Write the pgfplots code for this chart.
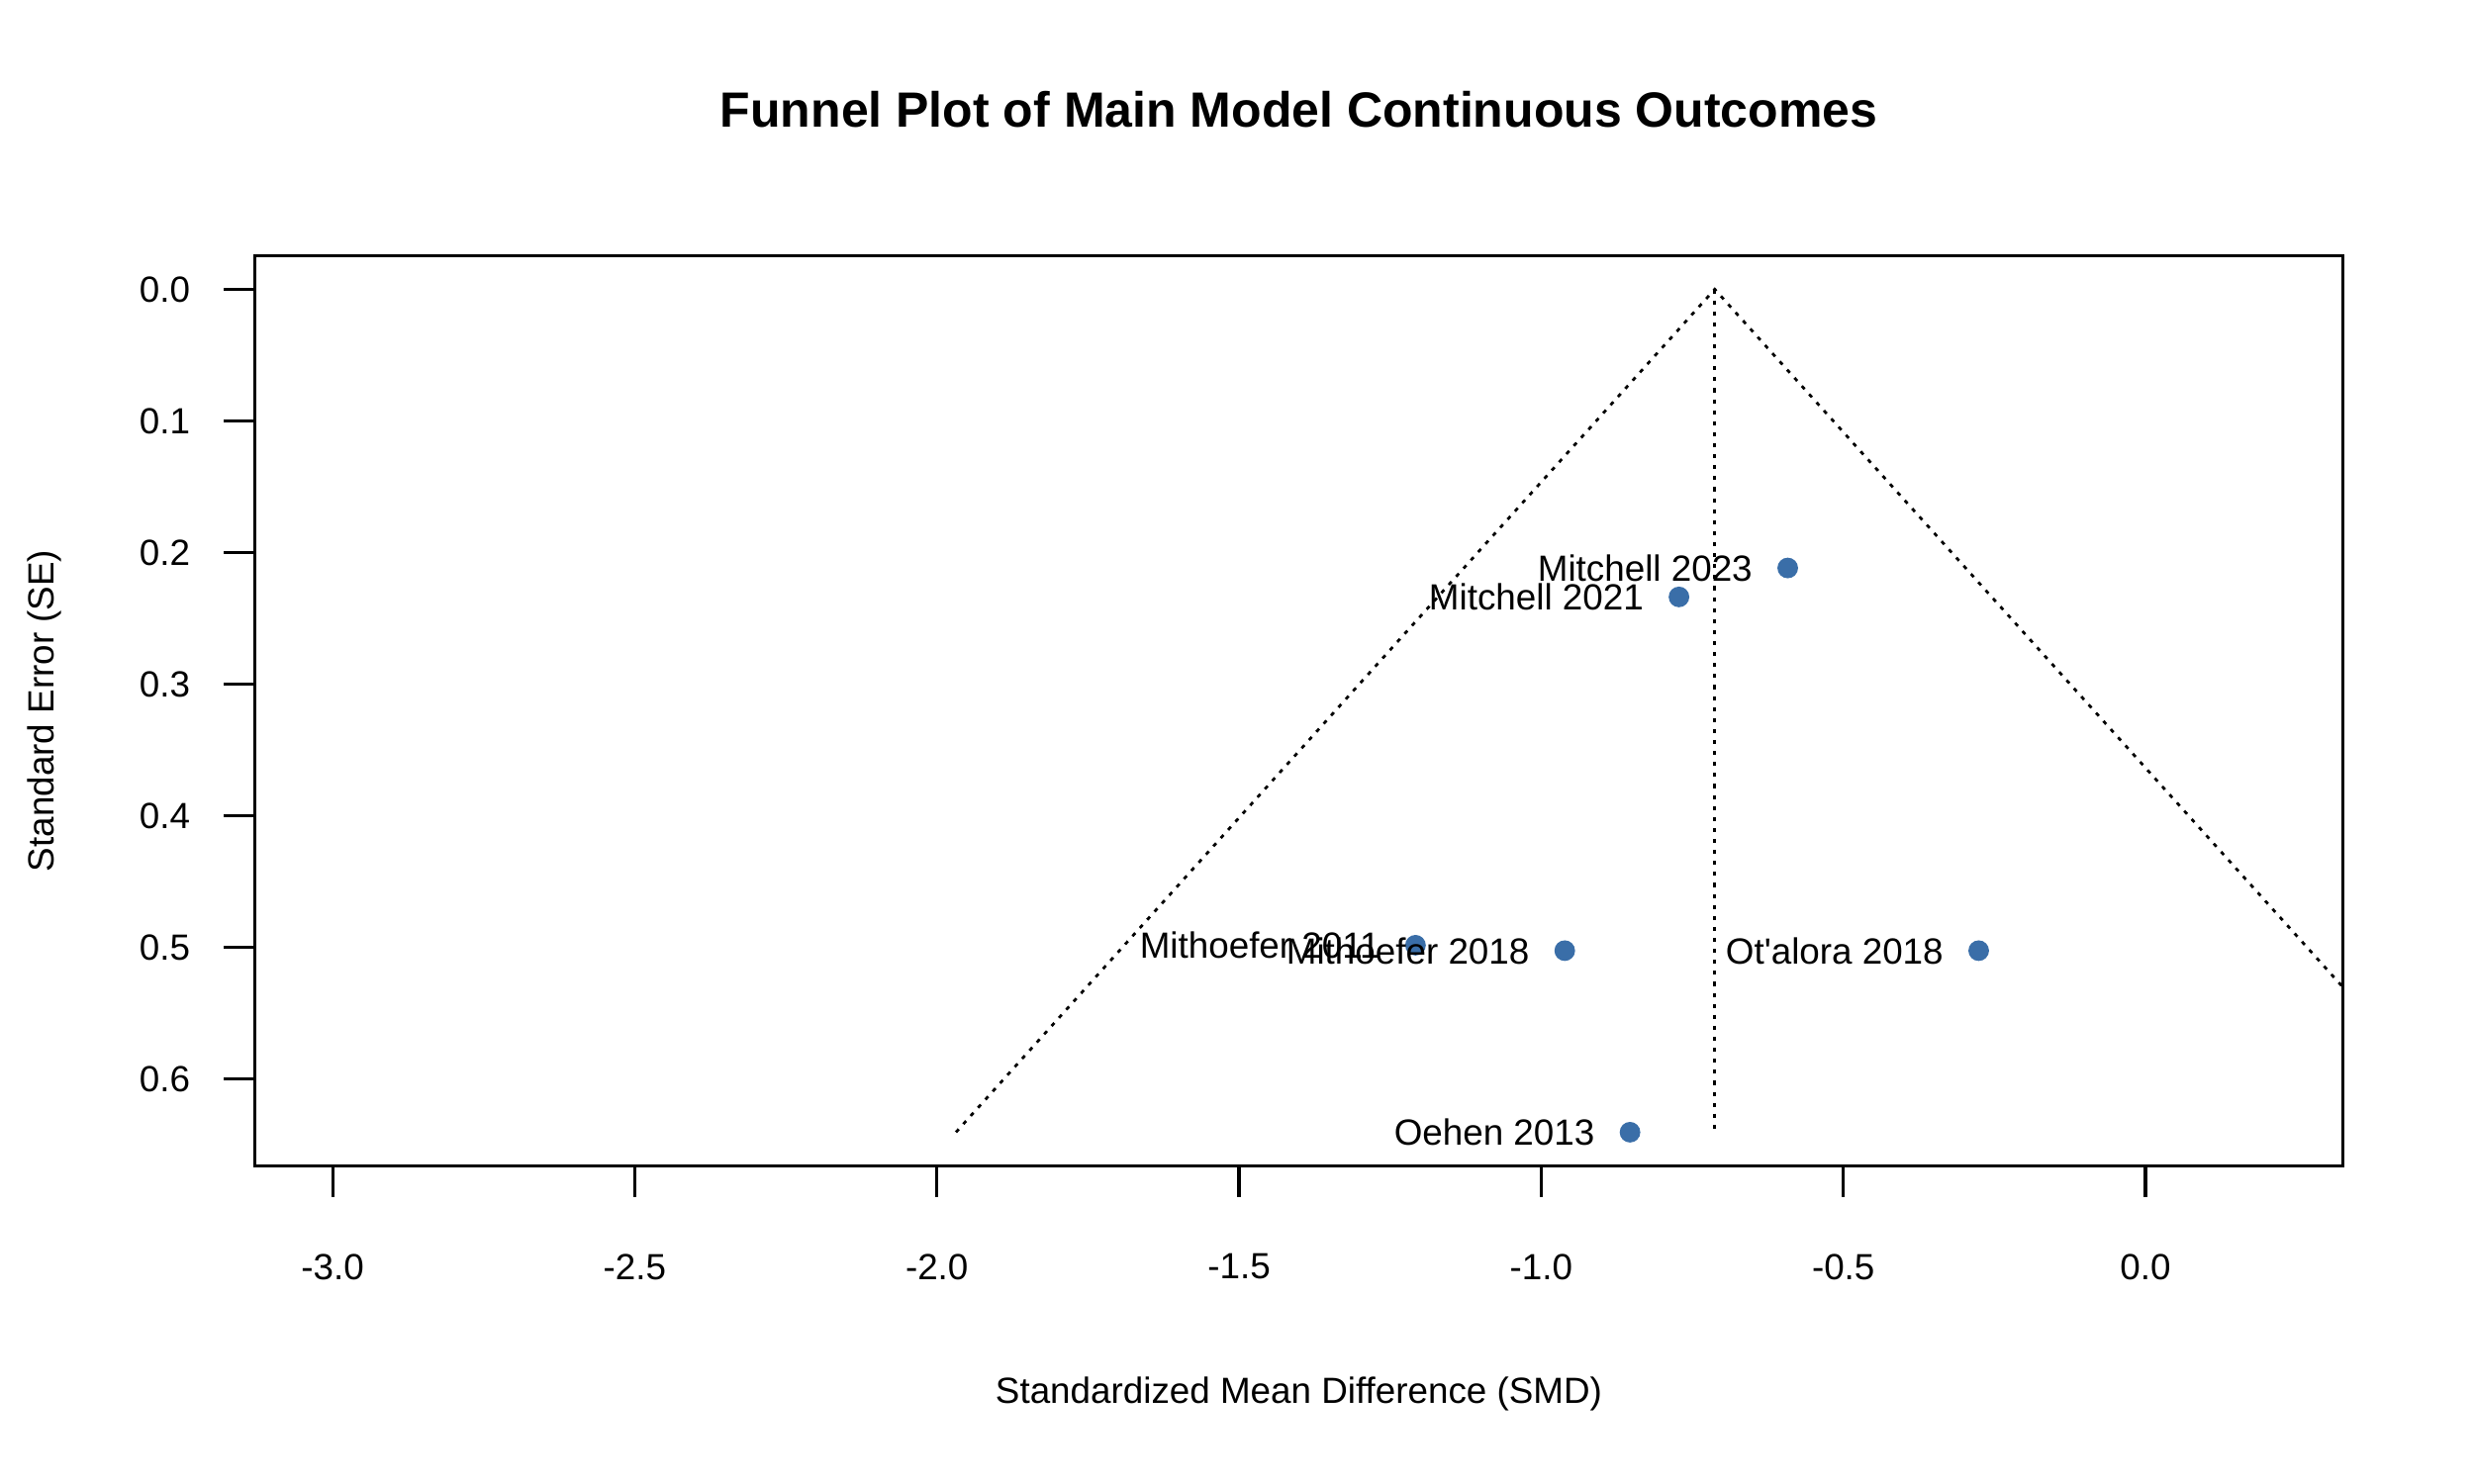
\documentclass[border=0pt]{standalone}
\usepackage{fontspec}
\setmainfont{Liberation Sans}[Ligatures=TeXOff]
\usepackage{pgfplots}
\pgfplotsset{compat=1.18}
\definecolor{dotblue}{RGB}{58,110,168}

% SMD, SE and study label
\pgfplotstableread{
x y label
-0.592 0.2118 {Mitchell 2023}
-0.772 0.2338 {Mitchell 2021}
-1.208 0.4985 {Mithoefer 2011}
-0.961 0.5026 {Mithoefer 2018}
-0.276 0.5026 {Ot'alora 2018}
-0.853 0.6406 {Oehen 2013}
}\studies

\begin{document}
\begin{tikzpicture}
\begin{axis}[
    scale only axis,
    width=607.8bp, height=265bp,
    xmin=-3.129, xmax=0.327,
    ymin=-0.0256, ymax=0.6662,
    y dir=reverse,
    xtick={-3,-2.5,-2,-1.5,-1,-0.5,0},
    ytick={0,0.1,0.2,0.3,0.4,0.5,0.6},
    xtick pos=bottom, ytick pos=left,
    tick align=outside,
    major tick length=9bp,
    tick style={black, line width=0.9bp},
    axis line style={line width=0.9bp},
    /pgf/number format/assume math mode=true,
    /pgf/number format/fixed,
    /pgf/number format/fixed zerofill,
    /pgf/number format/precision=1,
    ticklabel style={font=\fontsize{10.6bp}{12.7bp}\selectfont, inner sep=0pt},
    xticklabel style={yshift=-16.4bp},
    yticklabel style={xshift=-9.6bp},
    title={Funnel Plot of Main Model Continuous Outcomes},
    title style={font=\fontsize{14.4bp}{17bp}\selectfont\bfseries,
        at={([yshift=36.6bp]axis description cs:0.5,1)}, anchor=center},
    xlabel={Standardized Mean Difference (SMD)},
    xlabel style={at={([yshift=-66.3bp]axis description cs:0.5,0)}, anchor=center},
    ylabel={Standard Error (SE)},
    ylabel style={at={([xshift=-61.2bp]axis description cs:0,0.5)}, anchor=center},
    label style={font=\fontsize{10.6bp}{12.7bp}\selectfont},
]
\addplot[black, line width=0.8bp, dash pattern=on 1.2bp off 2bp] coordinates {(-1.9684,0.6406) (-0.7128,0) (0.5428,0.6406)};
\addplot[black, line width=0.8bp, dash pattern=on 1.2bp off 2bp] coordinates {(-0.7128,0) (-0.7128,0.6406)};
\addplot[only marks, mark=*, mark size=2.8bp, color=dotblue,
    point meta=explicit symbolic, nodes near coords,
    nodes near coords style={anchor=east, text=black, inner sep=0pt, xshift=-10.1bp,
        font=\fontsize{10.6bp}{12.7bp}\selectfont}]
    table[x=x, y=y, meta=label] {\studies};
\end{axis}
\pgfresetboundingbox
\useasboundingbox (current axis.south west) ++(-74.1bp,-92.6bp) rectangle ++(720bp,432bp);
\end{tikzpicture}
\end{document}
